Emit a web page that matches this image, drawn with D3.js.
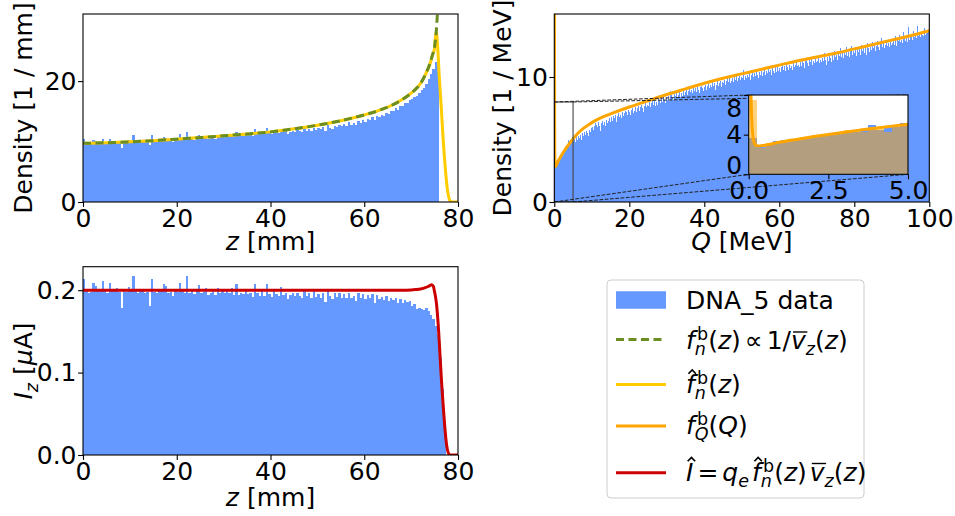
<!DOCTYPE html>
<html>
<head>
<meta charset="utf-8">
<script src="https://cdn.jsdelivr.net/npm/d3@7"></script>
<style>
  body { margin: 0; background: #fff; }
  svg { display: block; }
  text { font-family: "DejaVu Sans", sans-serif; fill: #000; white-space: pre; }
</style>
</head>
<body>
<svg id="fig" width="955" height="516"></svg>
<script>
// ---------------- data ----------------
// longitudinal density histogram, bins of 0.5 mm starting at z = 0
const zBinStart = 0, zBinWidth = 0.5;
const zDensity = [
  10.4, 9.8, 9.7, 9.9, 10.3, 10.1, 9.8, 9.9, 10.4, 10.0,
  9.7, 10.5, 10.0, 9.9, 10.1, 9.8, 9.0, 10.0, 9.9, 10.2,
  10.1, 11.1, 10.0, 9.9, 10.2, 10.1, 9.9, 10.0, 9.4, 11.1,
  10.1, 10.0, 10.3, 10.2, 10.7, 10.6, 10.1, 10.2, 10.0, 10.4,
  10.3, 11.2, 10.5, 10.3, 11.6, 10.4, 10.5, 10.3, 10.6, 11.1,
  10.5, 10.6, 10.9, 10.4, 10.6, 10.8, 10.5, 11.0, 10.7, 10.9,
  10.8, 11.0, 10.9, 11.3, 10.8, 11.6, 10.9, 11.1, 11.0, 11.4,
  11.1, 11.2, 11.0, 12.0, 11.3, 11.2, 11.6, 11.2, 12.3, 11.4,
  11.3, 11.9, 11.5, 11.4, 12.1, 11.5, 11.7, 11.3, 11.6, 11.8,
  11.6, 11.9, 11.7, 11.6, 12.2, 11.8, 12.0, 11.7, 12.3, 11.9,
  12.2, 12.0, 12.4, 11.8, 12.7, 12.3, 12.1, 12.6, 12.4, 12.8,
  12.5, 12.9, 12.6, 13.2, 12.8, 13.0, 12.7, 13.4, 13.1, 13.5,
  13.3, 13.8, 13.6, 14.1, 13.5, 14.3, 14.0, 14.4, 14.2, 14.8,
  14.6, 15.1, 15.0, 15.5, 15.2, 15.9, 15.8, 16.3, 16.4, 16.9,
  17.0, 17.3, 17.6, 18.1, 18.5, 18.9, 19.5, 20.3, 21.2, 22.0,
  23.2, 23.6
];

// beam current histogram [uA], same z bins
const zCurrent = [
  0.214, 0.199, 0.196, 0.198, 0.209, 0.205, 0.199, 0.200, 0.211, 0.201,
  0.197, 0.209, 0.201, 0.199, 0.203, 0.198, 0.178, 0.200, 0.198, 0.204,
  0.200, 0.217, 0.199, 0.197, 0.202, 0.200, 0.196, 0.198, 0.181, 0.214,
  0.198, 0.197, 0.201, 0.199, 0.207, 0.205, 0.196, 0.198, 0.193, 0.200,
  0.198, 0.209, 0.200, 0.196, 0.217, 0.197, 0.199, 0.195, 0.199, 0.206,
  0.197, 0.198, 0.203, 0.194, 0.197, 0.200, 0.194, 0.203, 0.197, 0.199,
  0.196, 0.199, 0.197, 0.203, 0.194, 0.207, 0.194, 0.197, 0.195, 0.201,
  0.195, 0.196, 0.192, 0.208, 0.196, 0.193, 0.200, 0.193, 0.207, 0.195,
  0.192, 0.202, 0.195, 0.193, 0.204, 0.194, 0.196, 0.189, 0.194, 0.197,
  0.193, 0.196, 0.193, 0.191, 0.200, 0.193, 0.196, 0.190, 0.199, 0.192,
  0.195, 0.191, 0.197, 0.186, 0.199, 0.193, 0.189, 0.196, 0.192, 0.197,
  0.191, 0.195, 0.190, 0.197, 0.190, 0.193, 0.187, 0.196, 0.191, 0.195,
  0.189, 0.194, 0.190, 0.195, 0.185, 0.194, 0.189, 0.192, 0.188, 0.193,
  0.187, 0.191, 0.188, 0.190, 0.184, 0.189, 0.185, 0.188, 0.186, 0.187,
  0.181, 0.183, 0.177, 0.178, 0.177, 0.176, 0.178, 0.175, 0.170, 0.165,
  0.156, 0.146, 0.118, 0.080, 0.030
];

// energy histogram, bins of 0.25 MeV starting at Q = 0
const qBinStart = 0, qBinWidth = 0.25;
const qDensity = [
  3.7, 2.8, 3.1, 3.4, 3.5, 3.6, 3.7, 3.7, 4.0, 4.0, 4.1, 4.2, 4.3, 4.3, 4.6, 5.0, 4.5, 4.8, 4.8, 5.2,
  4.9, 5.1, 4.8, 5.2, 5.0, 5.3, 5.1, 5.4, 5.2, 5.0, 5.5, 5.3, 5.6, 5.4, 5.7, 5.5, 5.3, 5.8, 5.6, 5.9,
  6.0, 5.8, 6.1, 6.3, 5.9, 6.2, 6.0, 6.4, 6.1, 5.7, 6.3, 6.5, 6.2, 6.4, 6.1, 6.6, 6.3, 6.5, 6.7, 6.4,
  6.6, 6.8, 6.5, 6.9, 6.7, 7.0, 6.4, 6.9, 7.1, 6.8, 7.0, 6.7, 7.2, 6.9, 7.1, 7.3, 6.8, 7.2, 7.0, 7.4,
  7.2, 7.0, 7.4, 7.5, 7.1, 7.3, 7.6, 7.2, 7.5, 7.7, 7.3, 7.6, 7.4, 7.8, 7.5, 7.2, 7.7, 7.9, 7.6, 7.8,
  7.7, 8.0, 7.6, 7.9, 8.3, 7.8, 8.1, 7.7, 8.2, 8.0, 7.8, 8.4, 8.1, 7.9, 8.3, 8.0, 8.5, 8.2, 7.9, 8.4,
  8.2, 8.5, 8.1, 8.9, 8.3, 8.6, 8.4, 8.2, 8.7, 8.5, 8.8, 8.3, 8.6, 8.9, 8.4, 8.7, 8.5, 8.9, 8.6, 8.8,
  8.7, 9.0, 8.6, 8.9, 9.2, 8.8, 9.0, 8.7, 9.3, 8.9, 9.1, 8.8, 9.4, 9.0, 8.7, 9.2, 9.0, 9.3, 9.1, 8.9,
  9.2, 9.4, 9.0, 9.3, 9.6, 9.1, 9.4, 9.2, 9.7, 9.3, 9.5, 9.0, 9.6, 9.4, 9.8, 9.3, 9.5, 9.7, 9.2, 9.6,
  9.5, 9.8, 9.4, 9.7, 10.0, 9.6, 9.9, 9.5, 10.1, 9.7, 9.9, 9.6, 10.0, 9.8, 10.2, 9.7, 9.9, 10.1, 9.8, 10.0,
  9.9, 10.6, 9.8, 10.1, 10.3, 9.9, 10.2, 10.0, 10.4, 9.8, 10.2, 10.4, 10.0, 10.3, 10.1, 10.5, 10.2, 9.9, 10.4, 10.2,
  10.3, 10.5, 10.1, 10.4, 10.7, 10.2, 10.5, 10.3, 10.8, 10.4, 10.6, 10.2, 10.7, 10.5, 10.3, 10.8, 10.6, 10.4, 10.9, 10.5,
  10.7, 10.4, 10.8, 11.0, 10.6, 10.9, 10.5, 11.1, 10.8, 10.6, 11.0, 10.7, 11.2, 10.9, 10.6, 11.1, 10.8, 11.0, 11.3, 10.9,
  11.0, 10.8, 11.2, 10.9, 11.4, 11.1, 10.7, 11.3, 11.0, 11.5, 11.1, 10.9, 11.4, 11.2, 11.6, 11.0, 11.3, 11.1, 11.5, 11.2,
  11.3, 11.6, 11.1, 11.4, 11.8, 11.2, 11.5, 11.3, 11.9, 11.4, 11.0, 11.6, 11.3, 11.7, 11.5, 11.2, 11.8, 11.4, 12.1, 11.6,
  11.5, 11.8, 11.4, 12.0, 11.7, 12.3, 11.6, 11.9, 11.5, 12.1, 11.8, 12.4, 11.7, 12.0, 11.6, 12.2, 11.9, 12.5, 11.8, 12.1,
  11.9, 12.2, 11.7, 12.4, 12.0, 12.3, 11.8, 12.6, 12.1, 12.3, 11.9, 12.5, 12.2, 11.8, 12.7, 12.3, 12.0, 12.4, 12.2, 12.8,
  12.3, 12.6, 12.1, 12.5, 12.9, 12.4, 12.2, 12.7, 12.5, 13.1, 12.4, 12.8, 12.3, 12.6, 13.0, 12.5, 12.7, 12.4, 12.9, 12.6,
  12.7, 13.0, 12.6, 13.3, 12.8, 12.5, 13.1, 12.9, 13.4, 12.8, 13.0, 12.7, 13.6, 13.1, 12.9, 13.2, 12.8, 14.0, 13.0, 13.2,
  13.1, 13.4, 13.0, 13.7, 13.2, 13.5, 13.1, 14.1, 13.3, 13.6, 13.2, 13.5, 13.4, 13.3, 13.9, 13.4, 13.5, 13.6, 13.5, 13.6
];

// second energy histogram shown only in the zoomed inset (0-5 MeV)
const qDensityLow = [
  7.5, 2.7, 3.0, 3.2, 3.4, 3.5, 3.7, 3.8, 4.0, 4.1, 4.2, 4.3, 4.5, 4.4, 4.3, 4.8, 4.6, 4.3, 4.9, 5.1
];

// f_n^b(z) proportional to 1 / mean v_z(z)
const fnZ = [0, 5, 10, 15, 20, 25, 30, 35, 40, 45, 50, 55, 60, 62, 64, 66, 68, 70, 71, 72, 73, 74, 74.5, 75, 75.2, 75.4, 75.6, 75.8];
const fnV = [9.7, 9.8, 9.95, 10.15, 10.4, 10.65, 10.95, 11.25, 11.6, 12.1, 12.7, 13.45, 14.4, 14.85, 15.4, 16.05, 16.9, 18.0, 18.7, 19.6, 21.0, 22.9, 24.2, 25.7, 26.9, 28.6, 31.0, 34.0];

// smoothed estimate \hat f_n^b(z)
const fhatZ = [0, 5, 10, 15, 20, 25, 30, 35, 40, 45, 50, 55, 60, 62, 64, 66, 68, 70, 71, 72, 73, 74, 74.5, 75, 75.15, 75.3, 75.45, 75.65, 76.0, 76.4, 76.8, 77.1, 77.4, 77.7, 78.0, 78.3, 78.6, 80];
const fhatV = [9.7, 9.8, 9.95, 10.15, 10.4, 10.65, 10.95, 11.25, 11.6, 12.1, 12.7, 13.45, 14.4, 14.85, 15.4, 16.05, 16.9, 18.0, 18.7, 19.6, 21.0, 22.8, 24.1, 25.5, 26.9, 28.1, 27.8, 25.8, 20.8, 16.0, 10.8, 7.4, 4.6, 2.3, 0.9, 0.2, 0.0, 0.0];

// f_Q^b(Q)
const fqQ = [0, 0.03, 0.06, 0.09, 0.12, 0.16, 0.22, 0.3, 0.4, 0.6, 1, 1.5, 2, 2.5, 3, 3.5, 4, 4.5, 5, 6, 7, 8, 9, 10, 12.5, 15, 20, 25, 30, 35, 40, 45, 50, 55, 60, 65, 70, 75, 80, 85, 90, 95, 100];
const fqV = [60, 20, 10, 6, 4.2, 3.3, 2.95, 2.85, 2.88, 3.0, 3.25, 3.52, 3.78, 4.02, 4.25, 4.46, 4.66, 4.86, 5.05, 5.4, 5.7, 5.95, 6.15, 6.35, 6.75, 7.05, 7.6, 8.1, 8.6, 9.05, 9.5, 9.9, 10.25, 10.6, 10.95, 11.3, 11.6, 11.9, 12.25, 12.6, 12.95, 13.3, 13.7];

// \hat I = q_e \hat f_n^b(z) mean v_z(z)  [uA]
const curZ = [0, 10, 20, 30, 40, 50, 60, 65, 68, 70, 71, 72, 73, 73.8, 74.4, 74.75, 75.0, 75.2, 75.4, 75.6, 75.8, 76.0, 76.2, 76.5, 76.9, 77.2, 77.6, 77.9, 78.3, 80];
const curV = [0.2, 0.2, 0.2, 0.2, 0.2, 0.2, 0.2, 0.2, 0.2, 0.2003, 0.2008, 0.2015, 0.203, 0.205, 0.2066, 0.2045, 0.198, 0.192, 0.184, 0.172, 0.156, 0.138, 0.117, 0.088, 0.055, 0.033, 0.011, 0.003, 0.0, 0.0];

// ticks
const zTicks = [0, 20, 40, 60, 80];
const densZTicks = [0, 20];
const qTicks = [0, 20, 40, 60, 80, 100];
const densQTicks = [0, 10];
const curTicks = [0.0, 0.1, 0.2];
const insetQTicks = [0, 2.5, 5];
const insetDensTicks = [0, 4, 8];

// legend labels
const legendData = "DNA_5 data";

// ---------------- drawing ----------------
const FS = 25;
const SPACE = 0.318; // width of a word space in em
const BLUE = "#6699ff", GREEN = "#6b8e23", YELLOW = "#ffcc00", ORANGE = "#ffa500", RED = "#cc0000";
const svg = d3.select("#fig");
const defs = svg.append("defs");

function clipFor(id, x, y) {
  defs.append("clipPath").attr("id", id).append("rect")
    .attr("x", x.range()[0]).attr("y", y.range()[1])
    .attr("width", x.range()[1] - x.range()[0]).attr("height", y.range()[0] - y.range()[1]);
  return `url(#${id})`;
}

// bars snapped to whole pixels so neighbouring bars join without seams
function drawHist(g, x, y, start, width, values, color, opacity, snap) {
  const ex = v => snap ? Math.round(x(v)) : x(v);
  g.append("g").selectAll("rect").data(values).join("rect")
    .attr("x", (d, i) => ex(start + i * width))
    .attr("width", (d, i) => ex(start + (i + 1) * width) - ex(start + i * width))
    .attr("y", d => y(d))
    .attr("height", d => y(0) - y(d))
    .attr("fill", color)
    .attr("fill-opacity", opacity)
    .attr("shape-rendering", snap ? "crispEdges" : null);
}

function drawCurve(g, x, y, xs, ys, color, w, dash) {
  const line = d3.line().x(d => x(d[0])).y(d => y(d[1])).curve(d3.curveMonotoneX);
  const p = g.append("path").datum(d3.zip(xs, ys)).attr("d", line)
    .attr("fill", "none").attr("stroke", color).attr("stroke-width", w)
    .attr("stroke-linejoin", "round");
  if (dash) p.attr("stroke-dasharray", dash);
}

function styleAxis(a) {
  a.select(".domain").remove();
  a.attr("font-size", null).attr("font-family", null);
  a.selectAll("text").attr("font-size", FS).style("fill", "#000");
  a.selectAll("line").attr("stroke", "#000").attr("stroke-width", 1.1);
  return a;
}

function xAxis(g, x, yPos, ticks, fmt) {
  return styleAxis(g.append("g").attr("transform", `translate(0,${yPos})`)
    .call(d3.axisBottom(x).tickValues(ticks).tickFormat(fmt).tickSize(4.9).tickPadding(2.4)));
}

function yAxis(g, y, xPos, ticks, fmt) {
  return styleAxis(g.append("g").attr("transform", `translate(${xPos},0)`)
    .call(d3.axisLeft(y).tickValues(ticks).tickFormat(fmt).tickSize(4.9).tickPadding(1.6)));
}

function frame(g, x, y) {
  g.append("rect").attr("x", x.range()[0]).attr("y", y.range()[1])
    .attr("width", x.range()[1] - x.range()[0]).attr("height", y.range()[0] - y.range()[1])
    .attr("fill", "none").attr("stroke", "#000").attr("stroke-width", 1.1);
}

// small mathtext-like layout: italic variables, stacked scripts, hats and bars
function mathText(parent, runs, fs) {
  const g = parent.append("g");
  let cx = 0;
  const put = (str, italic, dy, size, x0) => {
    const t = g.append("text").attr("x", x0).attr("y", dy).attr("font-size", size)
      .attr("xml:space", "preserve")
      .attr("font-style", italic ? "oblique" : "normal").text(str);
    return t.node().getComputedTextLength();
  };
  let prevItalic = false;
  for (const r of runs) {
    if (typeof r === "string") { cx += put(r, false, 0, fs, cx); prevItalic = false; continue; }
    if (r.sp !== undefined) { cx += r.sp * fs; continue; }
    if (r.sup || r.sub) {
      // superscript after a slanted letter gets a small italic correction
      const supShift = prevItalic ? 0.09 * fs : 0.02 * fs;
      let w = 0;
      if (r.sup) w = Math.max(w, supShift + put(r.sup.t, r.sup.i, -0.36 * fs, 0.7 * fs, cx + supShift));
      if (r.sub) w = Math.max(w, put(r.sub.t, r.sub.i, 0.24 * fs, 0.7 * fs, cx));
      cx += w;
      prevItalic = false;
      continue;
    }
    const w = put(r.i, true, 0, fs, cx);
    if (r.hat) {
      const hx = cx + w * 0.5 + 0.07 * fs, top = -0.92 * fs, h = 0.15 * fs, hw = 0.15 * fs;
      g.append("path").attr("d", `M${hx - hw},${top + h}L${hx},${top}L${hx + hw},${top + h}`)
        .attr("fill", "none").attr("stroke", "#000").attr("stroke-width", 1.7);
    }
    if (r.bar) {
      g.append("line").attr("x1", cx + 0.08 * fs).attr("x2", cx + w + 0.06 * fs)
        .attr("y1", -0.68 * fs).attr("y2", -0.68 * fs)
        .attr("stroke", "#000").attr("stroke-width", 1.4);
    }
    cx += w;
    prevItalic = true;
  }
  return { g, width: cx };
}

function centeredLabel(x, y, runs, rotate) {
  const holder = svg.append("g").attr("transform", `translate(${x},${y})${rotate ? " rotate(-90)" : ""}`);
  const m = mathText(holder, runs, FS);
  m.g.attr("transform", `translate(${-m.width / 2},0)`);
}

// ---- panel 1: density along z ----
{
  const x = d3.scaleLinear().domain([0, 80]).range([83, 458]);
  const y = d3.scaleLinear().domain([0, 31.1]).range([202, 14]);
  const g = svg.append("g");
  const plot = g.append("g").attr("clip-path", clipFor("c1", x, y));
  drawHist(plot, x, y, zBinStart, zBinWidth, zDensity, BLUE, 1, true);
  drawCurve(plot, x, y, fhatZ, fhatV, YELLOW, 3);
  drawCurve(plot, x, y, fnZ, fnV, GREEN, 3, "8,4.5");
  frame(g, x, y);
  xAxis(g, x, 202, zTicks, d3.format("d"));
  yAxis(g, y, 83, densZTicks, d3.format("d"));
  centeredLabel(x(40), 250, [{ i: "z" }, { sp: SPACE }, "[mm]"]);
  centeredLabel(32, 108, ["Density [1 / mm]"], true);
}

// ---- panel 2: energy density with zoomed inset ----
{
  const x = d3.scaleLinear().domain([0, 100]).range([554.3, 929.3]);
  const y = d3.scaleLinear().domain([0, 15.04]).range([202, 14]);
  const g = svg.append("g");
  const plot = g.append("g").attr("clip-path", clipFor("c2", x, y));
  drawHist(plot, x, y, qBinStart, qBinWidth, qDensity, BLUE, 1, true);
  drawCurve(plot, x, y, fqQ, fqV, ORANGE, 3);

  // inset axes
  const xi = d3.scaleLinear().domain([0, 5]).range([748.7, 908]);
  const yi = d3.scaleLinear().domain([0, 8]).range([174.3, 95]);

  // zoom rectangle and connectors
  const dashed = "3.7,1.6";
  plot.append("rect").attr("x", x(0)).attr("y", y(8)).attr("width", x(5) - x(0)).attr("height", y(0) - y(8))
    .attr("fill", "none").attr("stroke", "#444").attr("stroke-width", 1.1);
  const conn = [[x(0), y(8), xi(0), yi(8)], [x(5), y(8), xi(5), yi(8)],
                [x(0), y(0), xi(0), yi(0)], [x(5), y(0), xi(5), yi(0)]];
  plot.selectAll("line.conn").data(conn).join("line").attr("class", "conn")
    .attr("x1", d => d[0]).attr("y1", d => d[1]).attr("x2", d => d[2]).attr("y2", d => d[3])
    .attr("stroke", "#222").attr("stroke-width", 1).attr("stroke-dasharray", dashed);

  const ig = g.append("g");
  ig.append("rect").attr("x", 748.7).attr("y", 95).attr("width", 908 - 748.7).attr("height", 174.3 - 95).attr("fill", "#fff");
  const iplot = ig.append("g").attr("clip-path", clipFor("c2i", xi, yi));
  drawHist(iplot, xi, yi, qBinStart, qBinWidth, qDensity.slice(0, qDensityLow.length), BLUE, 1, true);
  drawHist(iplot, xi, yi, qBinStart, qBinWidth, qDensityLow, ORANGE, 0.5, true);
  drawCurve(iplot, xi, yi, fqQ, fqV, ORANGE, 3);
  frame(ig, xi, yi);
  xAxis(ig, xi, 174.3, insetQTicks, d3.format(".1f"));
  const ya = yAxis(ig, yi, 748.7, insetDensTicks, d3.format("d"));
  // end labels sit inside the inset's vertical extent
  ya.selectAll(".tick text").attr("dy", d => d === 8 ? "0.86em" : d === 0 ? "-0.05em" : "0.32em");

  frame(g, x, y);
  xAxis(g, x, 202, qTicks, d3.format("d"));
  yAxis(g, y, 554.3, densQTicks, d3.format("d"));
  centeredLabel(x(50), 250, [{ i: "Q" }, { sp: SPACE }, "[MeV]"]);
  centeredLabel(511, 108, ["Density [1 / MeV]"], true);
}

// ---- panel 3: current along z ----
{
  const x = d3.scaleLinear().domain([0, 80]).range([83, 458]);
  const y = d3.scaleLinear().domain([0, 0.2285]).range([455, 266.7]);
  const g = svg.append("g");
  const plot = g.append("g").attr("clip-path", clipFor("c3", x, y));
  drawHist(plot, x, y, zBinStart, zBinWidth, zCurrent, BLUE, 1, true);
  drawCurve(plot, x, y, curZ, curV, RED, 3);
  frame(g, x, y);
  xAxis(g, x, 455, zTicks, d3.format("d"));
  yAxis(g, y, 83, curTicks, d3.format(".1f"));
  centeredLabel(x(40), 506, [{ i: "z" }, { sp: SPACE }, "[mm]"]);
  centeredLabel(32, 361, [{ i: "I" }, { sub: { t: "z", i: true } }, { sp: SPACE }, "[", { i: "\u03bc" }, "A]"], true);
}

// ---- legend ----
{
  const lg = svg.append("g");
  lg.append("rect").attr("x", 607).attr("y", 280).attr("width", 257).attr("height", 218)
    .attr("rx", 4).attr("fill", "#fff").attr("fill-opacity", 0.8)
    .attr("stroke", "#cccccc").attr("stroke-width", 1);
  const hx0 = 616, hx1 = 666, tx = 686;
  const fb = (subT) => ({ sup: { t: "b" }, sub: { t: subT, i: true } });
  const rows = [
    { kind: "patch", cy: 300, base: 308.5, runs: [legendData] },
    { kind: "line", color: GREEN, dash: "8,4.5", cy: 339.5, base: 349,
      runs: [{ i: "f" }, fb("n"), "(", { i: "z" }, ")", { sp: 0.16 }, "\u221d", { sp: 0.16 }, "1/", { i: "v", bar: true }, { sub: { t: "z", i: true } }, "(", { i: "z" }, ")"] },
    { kind: "line", color: YELLOW, cy: 384.5, base: 393,
      runs: [{ i: "f", hat: true }, fb("n"), "(", { i: "z" }, ")"] },
    { kind: "line", color: ORANGE, cy: 426, base: 434,
      runs: [{ i: "f" }, fb("Q"), "(", { i: "Q" }, ")"] },
    { kind: "line", color: RED, cy: 472.7, base: 480.5,
      runs: [{ i: "I", hat: true }, { sp: 0.16 }, "=", { sp: 0.16 }, { i: "q" }, { sub: { t: "e", i: true } }, { sp: 0.12 },
             { i: "f", hat: true }, fb("n"), "(", { i: "z" }, ")", { sp: 0.12 }, { i: "v", bar: true }, { sub: { t: "z", i: true } }, "(", { i: "z" }, ")"] }
  ];
  rows.forEach(r => {
    if (r.kind === "patch") {
      lg.append("rect").attr("x", hx0).attr("y", r.cy - 8.75).attr("width", hx1 - hx0).attr("height", 17.5).attr("fill", BLUE);
    } else {
      const l = lg.append("line").attr("x1", hx0).attr("x2", hx1).attr("y1", r.cy).attr("y2", r.cy)
        .attr("stroke", r.color).attr("stroke-width", 3);
      if (r.dash) l.attr("stroke-dasharray", r.dash);
    }
    const holder = lg.append("g").attr("transform", `translate(${tx},${r.base})`);
    mathText(holder, r.runs, FS);
  });
}
</script>
</body>
</html>
